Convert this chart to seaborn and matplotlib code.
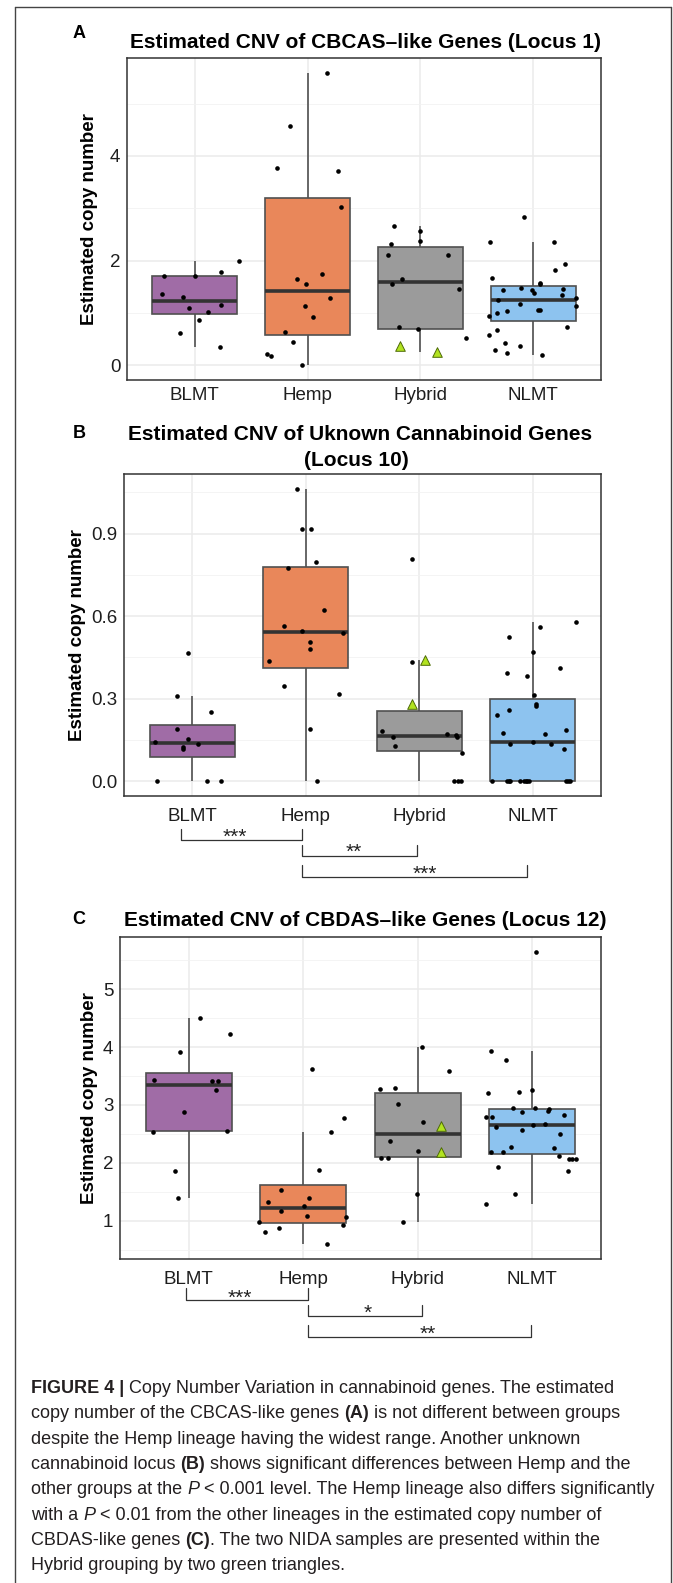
import numpy as np
import pandas as pd
import matplotlib
matplotlib.use("Agg")
import matplotlib.pyplot as plt
import seaborn as sns
from matplotlib.lines import Line2D
from matplotlib import transforms

# ---------------- data ----------------
groups = ["BLMT", "Hemp", "Hybrid", "NLMT"]
palette = {"BLMT": "#A06CA6", "Hemp": "#E9875A", "Hybrid": "#9B9B9B", "NLMT": "#8DC3EF"}

# Panel A: CBCAS-like genes (Locus 1)
a_blmt = [1.71, 1.37, 1.30, 1.09, 1.71, 0.86, 1.02, 1.78, 1.16, 2.00, 0.62, 0.36]
a_blmt_jit = [-0.27, -0.29, -0.10, -0.05, 0.0, 0.04, 0.12, 0.23, 0.23, 0.39, -0.13, 0.22]
a_hemp = [5.59, 4.58, 3.76, 3.71, 3.03, 1.65, 1.56, 1.75, 1.28, 1.13, 0.93, 0.63, 0.44, 0.21, 0.18, 0.0]
a_hemp_jit = [0.17, -0.16, -0.27, 0.27, 0.30, -0.09, -0.01, 0.13, 0.20, -0.02, 0.05, -0.20, -0.13, -0.36, -0.32, -0.05]
a_hyb = [2.67, 2.57, 2.38, 2.32, 2.10, 2.10, 1.64, 1.56, 1.45, 0.74, 0.69, 0.52]
a_hyb_jit = [-0.23, 0.0, 0.0, -0.26, -0.29, 0.24, -0.16, -0.25, 0.34, -0.19, -0.02, 0.40]
a_nida = [0.37, 0.25]
a_nida_jit = [-0.18, 0.15]
a_nlmt = [2.83, 2.35, 2.35, 1.94, 1.82, 1.67, 1.57, 1.43, 1.48, 1.43, 1.38, 1.46, 1.35, 1.28, 1.24,
          1.14, 1.17, 1.04, 1.05, 1.05, 1.00, 0.95, 0.73, 0.67, 0.58, 0.43, 0.37, 0.29, 0.23, 0.20, 1.56]
a_nlmt_jit = [-0.08, -0.38, 0.18, 0.28, 0.19, -0.37, 0.06, -0.27, -0.11, -0.01, 0.01, 0.26, 0.25, 0.38, -0.31,
              0.38, -0.12, -0.23, 0.04, 0.06, -0.32, -0.39, 0.30, -0.32, -0.39, -0.25, -0.12, -0.34, -0.23, 0.08, 0.06]

# Panel B: unknown cannabinoid genes (Locus 10)
b_blmt = [0.466, 0.309, 0.252, 0.191, 0.155, 0.143, 0.137, 0.125, 0.116, 0.0, 0.0, 0.0]
b_blmt_jit = [-0.04, -0.13, 0.17, -0.13, -0.04, -0.33, 0.05, -0.08, -0.08, -0.31, 0.13, 0.25]
b_hemp = [1.063, 0.918, 0.918, 0.795, 0.775, 0.621, 0.563, 0.546, 0.539, 0.506, 0.482, 0.436, 0.345, 0.319, 0.189, 0.0]
b_hemp_jit = [-0.08, -0.03, 0.05, 0.09, -0.16, 0.16, -0.19, -0.03, 0.33, 0.04, 0.04, -0.32, -0.19, 0.29, 0.04, 0.10]
b_hyb = [0.807, 0.435, 0.183, 0.161, 0.128, 0.173, 0.170, 0.161, 0.103, 0.0, 0.0, 0.0]
b_hyb_jit = [-0.06, -0.06, -0.33, -0.23, -0.21, 0.24, 0.32, 0.33, 0.38, 0.31, 0.34, 0.37]
b_nida = [0.44, 0.282]
b_nida_jit = [0.05, -0.06]
b_nlmt = [0.579, 0.561, 0.524, 0.470, 0.413, 0.395, 0.383, 0.315, 0.282, 0.273, 0.258, 0.242, 0.176, 0.188,
          0.173, 0.134, 0.143, 0.137, 0.119, 0, 0, 0, 0, 0, 0, 0, 0, 0, 0, 0, 0]
b_nlmt_jit = [0.38, 0.06, -0.21, 0.0, 0.24, -0.23, -0.05, 0.01, 0.03, 0.03, -0.21, -0.32, -0.26, 0.29,
              0.11, -0.20, 0.0, 0.16, 0.27, -0.36, -0.23, -0.20, -0.11, -0.08, -0.05, -0.03, 0.29, 0.33,
              -0.21, -0.06, 0.31]

# Panel C: CBDAS-like genes (Locus 12)
c_blmt = [4.50, 4.22, 3.92, 3.43, 3.42, 3.42, 3.26, 2.87, 2.53, 2.55, 1.86, 1.39]
c_blmt_jit = [0.10, 0.36, -0.08, -0.30, 0.20, 0.26, 0.24, -0.04, -0.31, 0.33, -0.12, -0.09]
c_hemp = [3.62, 2.78, 2.53, 1.88, 1.53, 1.33, 1.40, 1.26, 1.16, 1.08, 0.98, 1.06, 0.93, 0.80, 0.88, 0.59]
c_hemp_jit = [0.08, 0.36, 0.24, 0.14, -0.19, -0.31, 0.05, 0.01, -0.19, 0.03, -0.39, 0.37, 0.35, -0.33, -0.21, 0.21]
c_hyb = [4.01, 3.58, 3.28, 3.29, 3.01, 2.71, 2.37, 2.21, 2.08, 2.08, 1.46, 0.97]
c_hyb_jit = [0.04, 0.27, -0.33, -0.20, -0.17, 0.05, -0.24, 0.0, -0.32, -0.26, -0.01, -0.13]
c_nida = [2.64, 2.18]
c_nida_jit = [0.20, 0.20]
c_nlmt = [5.65, 3.94, 3.77, 3.21, 3.22, 3.26, 2.95, 2.94, 2.93, 2.90, 2.87, 2.80, 2.79, 2.82, 2.62, 2.66,
          2.67, 2.56, 2.49, 2.28, 2.26, 2.19, 2.18, 2.12, 2.06, 2.06, 2.06, 1.93, 1.86, 1.46, 1.28]
c_nlmt_jit = [0.03, -0.36, -0.23, -0.39, -0.12, 0.0, -0.17, 0.02, 0.15, 0.14, -0.09, -0.40, -0.35, 0.28, -0.32,
              0.01, 0.11, -0.09, 0.24, -0.19, 0.19, -0.36, -0.26, 0.23, 0.32, 0.35, 0.38, -0.30, 0.31, -0.15, -0.40]

titles = ["Estimated CNV of CBCAS\u2013like Genes (Locus 1)",
          "Estimated CNV of Uknown Cannabinoid Genes\n(Locus 10)",
          "Estimated CNV of CBDAS\u2013like Genes (Locus 12)"]
panel_letters = ["A", "B", "C"]
ylabel = "Estimated copy number"
yticks_a, yminor_a = [0, 2, 4], [1, 3, 5]
yticks_b, yminor_b = [0.0, 0.3, 0.6, 0.9], [0.15, 0.45, 0.75, 1.05]
yticks_c, yminor_c = [1, 2, 3, 4, 5], [0.5, 1.5, 2.5, 3.5, 4.5, 5.5]

# significance comparisons: (x start, x end, label)
sig_b = [(-0.10, 0.97, "***"), (0.97, 1.98, "**"), (0.97, 2.95, "***")]
sig_c = [(-0.02, 1.04, "***"), (1.04, 2.04, "*"), (1.04, 2.99, "**")]

caption_lines = [
    [("FIGURE 4 |", "b"), (" Copy Number Variation in cannabinoid genes. The estimated", "n")],
    [("copy number of the CBCAS-like genes ", "n"), ("(A)", "b"), (" is not different between groups", "n")],
    [("despite the Hemp lineage having the widest range. Another unknown", "n")],
    [("cannabinoid locus ", "n"), ("(B)", "b"), (" shows significant differences between Hemp and the", "n")],
    [("other groups at the ", "n"), ("P", "i"), (" < 0.001 level. The Hemp lineage also differs significantly", "n")],
    [("with a ", "n"), ("P", "i"), (" < 0.01 from the other lineages in the estimated copy number of", "n")],
    [("CBDAS-like genes ", "n"), ("(C)", "b"), (". The two NIDA samples are presented within the", "n")],
    [("Hybrid grouping by two green triangles.", "n")],
]

# ---------------- figure ----------------
W, H = 673, 1583
sns.set_style("white")
plt.rcParams["font.family"] = ["Liberation Sans", "DejaVu Sans"]
fig = plt.figure(figsize=(W / 100, H / 100), dpi=100)


def fx(x):
    return x / W


def fy(y):
    return 1 - y / H


panels = [
    dict(rect=(127, 58, 601, 380),
         vals=[a_blmt, a_hemp, a_hyb, a_nlmt], jits=[a_blmt_jit, a_hemp_jit, a_hyb_jit, a_nlmt_jit],
         nida=a_nida, nida_jit=a_nida_jit, yt=yticks_a, ym=yminor_a, fmt="{:.0f}",
         title_xy=[(366, 42)], letter_y=34, ylab_x=90, xpad=2.4, sig=None),
    dict(rect=(124, 474, 601, 796),
         vals=[b_blmt, b_hemp, b_hyb, b_nlmt], jits=[b_blmt_jit, b_hemp_jit, b_hyb_jit, b_nlmt_jit],
         nida=b_nida, nida_jit=b_nida_jit, yt=yticks_b, ym=yminor_b, fmt="{:.1f}",
         title_xy=[(360, 434), (356, 460)], letter_y=434, ylab_x=77, xpad=5.8,
         sig=(sig_b, [(840, 829, 831.5), (856, 845, 846), (877, 865, 868.5)], [0.375, 1.425, 2.05])),
    dict(rect=(120, 937, 601, 1259),
         vals=[c_blmt, c_hemp, c_hyb, c_nlmt], jits=[c_blmt_jit, c_hemp_jit, c_hyb_jit, c_nlmt_jit],
         nida=c_nida, nida_jit=c_nida_jit, yt=yticks_c, ym=yminor_c, fmt="{:.0f}",
         title_xy=[(365, 920)], letter_y=920, ylab_x=90, xpad=6.3,
         sig=(sig_c, [(1300, 1288, 1292), (1316, 1305, 1307), (1337, 1325, 1328.5)], [0.445, 1.566, 2.09])),
]

for pi, p in enumerate(panels):
    l, t, r, b = p["rect"]
    ax = fig.add_axes([fx(l), fy(b), (r - l) / W, (b - t) / H])

    rows = []
    for g, v in zip(groups, p["vals"]):
        rows += [(g, x) for x in v]
    rows += [("Hybrid", x) for x in p["nida"]]
    df = pd.DataFrame(rows, columns=["group", "value"])

    ax.set_axisbelow(True)
    sns.boxplot(data=df, x="group", y="value", hue="group", order=groups, hue_order=groups,
                palette=palette, saturation=1, width=0.75, showfliers=False, showcaps=False,
                linewidth=1.2, linecolor="#505050", legend=False, ax=ax,
                medianprops={"color": "#333333", "linewidth": 2.6})

    xs, ys = [], []
    for i, (v, j) in enumerate(zip(p["vals"], p["jits"])):
        xs += list(i + np.array(j))
        ys += list(v)
    sns.scatterplot(x=xs, y=ys, color="black", s=11, linewidth=0, ax=ax, zorder=4, legend=False)
    sns.scatterplot(x=list(2 + np.array(p["nida_jit"])), y=p["nida"], marker="^", s=48,
                    color="#B2E320", edgecolor="#4E6B08", linewidth=0.7, ax=ax, zorder=5, legend=False)

    allv = df["value"].to_numpy()
    lo, hi = allv.min(), allv.max()
    rng = hi - lo
    ax.set_ylim(lo - 0.05 * rng, hi + 0.05 * rng)
    ax.set_xlim(-0.6, 3.6)
    ax.set_xticks(range(4))
    ax.set_xticklabels(groups)
    ax.set_yticks(p["yt"])
    ax.set_yticklabels([p["fmt"].format(v) for v in p["yt"]])
    ax.set_yticks(p["ym"], minor=True)
    ax.set_xlabel("")
    ax.set_ylabel("")
    ax.grid(True, which="major", color="#EBEBEB", linewidth=1.1)
    ax.grid(True, which="minor", axis="y", color="#F2F2F2", linewidth=0.6)
    ax.tick_params(axis="both", which="major", length=2.5, width=0.8, color="#333333",
                   labelsize=13.5, labelcolor="#1e1e1e")
    ax.tick_params(axis="x", which="major", pad=p["xpad"])
    ax.tick_params(axis="y", which="major", pad=2.2)
    ax.tick_params(which="minor", length=0)
    for s in ax.spines.values():
        s.set_visible(True)
        s.set_color("#333333")
        s.set_linewidth(1.1)

    # titles, letters, y labels
    lines = titles[pi].split("\n")
    for txt, (tx, ty) in zip(lines, p["title_xy"]):
        fig.text(fx(tx), fy(ty), txt, ha="center", va="center", fontsize=15, fontweight="bold", color="black")
    fig.text(fx(79), fy(p["letter_y"]), panel_letters[pi], ha="center", va="center",
             fontsize=13, fontweight="bold", color="black")
    fig.text(fx(p["ylab_x"]), fy((t + b) / 2), ylabel, rotation=90, ha="center", va="center",
             fontsize=13.5, fontweight="bold", color="black")

    # significance brackets
    if p["sig"] is not None:
        comps, ypos, labx = p["sig"]
        trans = transforms.blended_transform_factory(ax.transData, fig.transFigure)
        for (x1, x2, lab), (yl, yt_, yc), lx in zip(comps, ypos, labx):
            ax.plot([x1, x1, x2, x2], [fy(yt_), fy(yl), fy(yl), fy(yt_)], transform=trans,
                    clip_on=False, color="#333333", linewidth=0.9)
            ax.text(lx, fy(yc + 11.5), lab, transform=trans, ha="center", va="baseline",
                    fontsize=15, color="#222222")

# figure frame
for xs_, ys_ in [((15, 15), (7, 1583)), ((15, 671), (7, 7)), ((671, 671), (7, 1583))]:
    fig.add_artist(Line2D([fx(x) for x in xs_], [fy(y) for y in ys_], transform=fig.transFigure,
                          color="#444444", linewidth=1.0))

# caption with mixed styles
renderer = fig.canvas.get_renderer()
cap_font = ["Liberation Sans", "DejaVu Sans"]


def style_kw(st):
    if st == "b":
        return dict(fontweight="bold")
    if st == "i":
        return dict(fontstyle="italic")
    return dict(fontweight="normal")


def text_width(s, size, st):
    tt = fig.text(0, 0, s, fontsize=size, family=cap_font, **style_kw(st))
    w = tt.get_window_extent(renderer).width
    tt.remove()
    return w


# fit caption font size to the longest reference line (624 px)
probe = "".join(s for s, _ in caption_lines[4])
w10 = text_width(probe, 10, "n")
cap_size = 10 * 624 / w10
space_w = text_width("x x", cap_size, "n") - text_width("xx", cap_size, "n")

base_y = 1393
for li, line in enumerate(caption_lines):
    x = 31
    y = base_y + li * 25.3
    for s, st in line:
        lead = len(s) - len(s.lstrip(" "))
        trail = len(s) - len(s.rstrip(" "))
        core = s.strip(" ")
        x += lead * space_w
        if core:
            tt = fig.text(fx(x), fy(y), core, fontsize=cap_size, family=cap_font, ha="left",
                          va="baseline", color="#231F20", **style_kw(st))
            x += tt.get_window_extent(renderer).width
        x += trail * space_w

fig.savefig("out.png", dpi=100)
